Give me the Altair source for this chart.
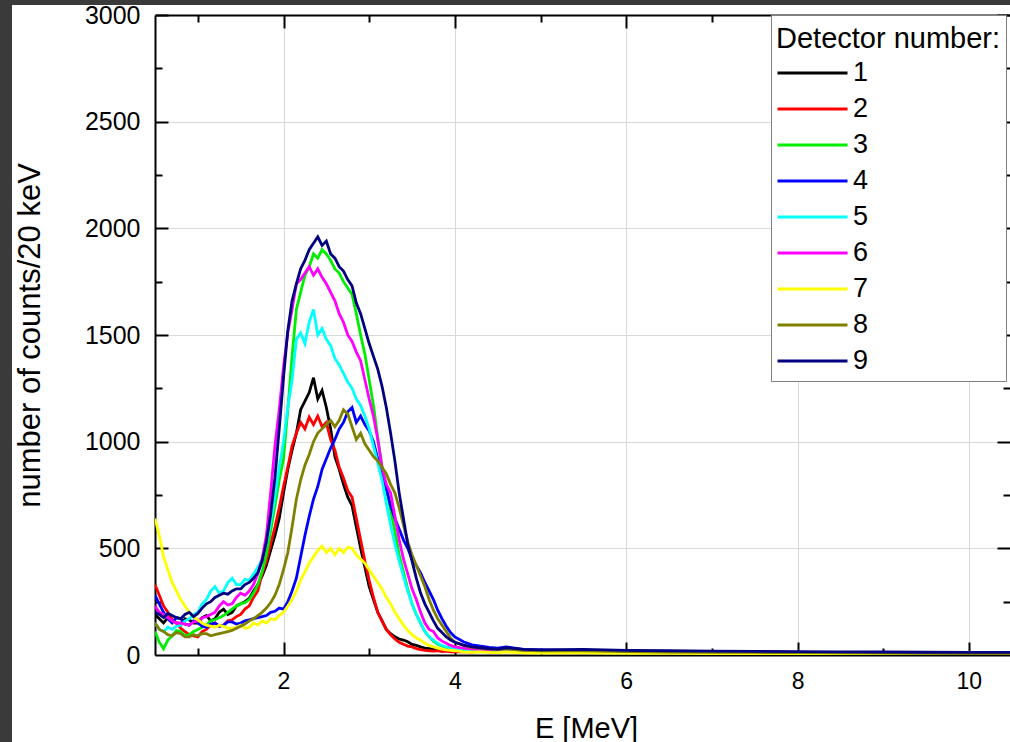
import altair as alt
import pandas as pd

# ---------------- data ----------------
E = [0.5, 0.55, 0.6, 0.65, 0.7, 0.75, 0.8, 0.85, 0.9, 0.95, 1.0, 1.05,
     1.1, 1.15, 1.2, 1.25, 1.3, 1.35, 1.4, 1.45, 1.5, 1.55, 1.6,
     1.65, 1.7, 1.75, 1.8, 1.85, 1.9, 1.95,
     2.0, 2.05, 2.1, 2.15, 2.2, 2.25, 2.3, 2.35, 2.4, 2.45,
     2.5, 2.55, 2.6, 2.65, 2.7, 2.75, 2.8, 2.85, 2.9, 2.95,
     3.0, 3.05, 3.1, 3.15, 3.2, 3.25, 3.3, 3.35, 3.4, 3.45,
     3.5, 3.55, 3.6, 3.65, 3.7, 3.75, 3.8, 3.85, 3.9, 3.95,
     4.0,
     4.1, 4.2, 4.3, 4.4, 4.5, 4.6, 4.8, 5.0, 5.5, 6.0, 6.5, 7.0, 7.5, 8.0, 8.5, 9.0, 9.5, 10.0, 10.5]

det1 = [190, 170, 150, 175, 165, 150, 140, 170, 165, 150, 150, 175,
        185, 160, 170, 200, 215, 190, 200, 230, 240, 250, 265,
        300, 330, 370, 420, 490, 560, 640,
        760, 870, 960, 1040, 1150, 1190, 1230, 1300, 1200, 1240,
        1160, 1060, 930, 870, 800, 740, 700, 600, 500, 410,
        320, 260, 200, 160, 120, 100, 85, 75, 70, 62,
        50, 45, 38, 32, 30, 27, 25, 22, 24, 20,
        22,
        20, 18, 22, 18, 20, 26, 18, 15, 20, 14, 12, 11, 10, 9, 8, 7, 6, 6, 5]

det2 = [330, 280, 230, 200, 165, 150, 125, 110, 95, 90, 85, 110,
        120, 140, 150, 135, 140, 160, 165, 180, 190, 215, 230,
        270, 300, 380, 440, 520, 600, 690,
        790, 880, 980, 1040, 1090, 1060, 1115, 1080, 1120, 1070,
        1090, 1010, 960, 880, 830, 770, 740, 640, 540, 440,
        350, 270, 200, 160, 120, 95, 75, 60, 50, 42,
        38, 30, 25, 22, 20, 18, 20, 16, 18, 15,
        15,
        16, 14, 18, 15, 14, 20, 14, 12, 16, 12, 10, 10, 9, 8, 7, 7, 6, 5, 5]

det3 = [110, 60, 30, 70, 90, 115, 110, 90, 95, 110, 120, 130,
        140, 160, 165, 175, 185, 200, 215, 230, 240, 245, 260,
        290, 330, 390, 470, 580, 700, 820,
        920, 1150, 1400, 1620, 1700, 1780, 1820, 1880, 1860, 1900,
        1880, 1850, 1810, 1790, 1750, 1720, 1690, 1600, 1500, 1410,
        1290, 1170, 1020, 880, 780, 680, 580, 470, 390, 310,
        240, 190, 150, 110, 85, 65, 50, 42, 35, 30,
        28,
        24, 22, 26, 20, 22, 28, 18, 16, 20, 15, 13, 12, 11, 10, 9, 8, 7, 6, 6]

det4 = [280, 240, 200, 170, 150, 175, 170, 145, 140, 160, 150, 135,
        130, 145, 150, 135, 140, 155, 155, 145, 150, 160, 165,
        170, 175, 180, 185, 200, 205, 220,
        215, 250, 300, 360, 460, 560, 650, 730, 790, 870,
        920, 970, 1010, 1060, 1090, 1140, 1160, 1090, 1120, 1080,
        1050, 1000, 920, 850, 780, 700, 640, 590, 540, 500,
        450, 420, 385, 340, 300, 260, 210, 170, 135, 105,
        85,
        62, 48, 42, 36, 32, 38, 26, 24, 22, 18, 16, 15, 14, 12, 11, 10, 9, 8, 8]

det5 = [150, 120, 110, 130, 120, 135, 140, 160, 170, 190, 200, 240,
        260, 300, 320, 290, 300, 340, 360, 330, 330, 355, 350,
        380, 410, 450, 520, 620, 740, 880,
        1000, 1160, 1290, 1480, 1510, 1460, 1560, 1620, 1500, 1530,
        1480, 1450, 1390, 1360, 1320, 1280, 1250, 1200, 1170, 1120,
        1060, 980, 900, 820, 710, 610, 520, 440, 370, 300,
        240, 190, 150, 110, 85, 70, 55, 45, 38, 32,
        30,
        26, 24, 27, 22, 22, 30, 20, 18, 20, 16, 14, 13, 12, 11, 10, 9, 8, 7, 7]

det6 = [230, 200, 190, 175, 160, 150, 150, 145, 140, 155, 160, 175,
        180, 190, 200, 230, 250, 235, 240, 270, 290, 280, 300,
        330, 380, 450, 560, 760, 980, 1150,
        1350, 1510, 1620, 1740, 1760, 1790, 1820, 1780, 1810, 1770,
        1740, 1700, 1660, 1600, 1560, 1500, 1470, 1420, 1380, 1290,
        1200, 1120, 1010, 880, 800, 760, 650, 540, 450, 380,
        310, 260, 200, 150, 120, 110, 80, 65, 55, 45,
        38,
        32, 28, 26, 24, 24, 30, 22, 20, 22, 17, 15, 14, 13, 12, 10, 9, 8, 8, 7]

det7 = [640, 560, 460, 400, 340, 300, 260, 230, 200, 180, 165, 150,
        140, 135, 130, 140, 135, 125, 125, 130, 140, 125, 130,
        150, 140, 160, 150, 170, 165, 185,
        200, 230, 260, 300, 350, 390, 430, 460, 490, 510,
        480, 500, 470, 500, 480, 505, 500, 470, 450, 430,
        400, 370, 340, 310, 270, 240, 200, 170, 140, 115,
        95, 80, 70, 55, 45, 38, 32, 28, 24, 22,
        20,
        15, 13, 15, 12, 11, 14, 10, 9, 10, 8, 8, 7, 7, 6, 5, 5, 5, 4, 4]

det8 = [150, 120, 110, 95, 90, 105, 100, 85, 85, 95, 90, 100,
        100, 90, 95, 100, 105, 110, 115, 125, 135, 145, 160,
        170, 185, 200, 220, 245, 280, 330,
        400, 480, 600, 730, 820, 890, 940, 1000, 1040, 1060,
        1080, 1100, 1070, 1100, 1150, 1130, 1070, 1010, 1040, 990,
        960, 930, 910, 880, 850, 800, 760, 690, 610, 530,
        470, 420, 370, 320, 260, 210, 170, 140, 110, 80,
        60,
        45, 36, 32, 28, 26, 30, 22, 20, 20, 16, 14, 13, 12, 11, 10, 9, 8, 7, 7]

det9 = [200, 190, 175, 195, 185, 175, 170, 190, 200, 180, 195, 220,
        240, 250, 270, 280, 290, 285, 300, 310, 310, 330, 340,
        360, 385, 440, 530, 660, 830, 1060,
        1300, 1520, 1660, 1740, 1810, 1850, 1900, 1930, 1960, 1920,
        1940, 1880, 1860, 1820, 1800, 1760, 1730, 1650, 1600, 1530,
        1460, 1400, 1340, 1260, 1160, 1040, 910, 760, 640, 520,
        440, 360, 290, 240, 200, 160, 125, 105, 85, 70,
        60,
        46, 38, 34, 30, 28, 34, 26, 24, 26, 22, 20, 18, 17, 16, 15, 14, 13, 12, 12]

detectors = ["1", "2", "3", "4", "5", "6", "7", "8", "9"]
series = [det1, det2, det3, det4, det5, det6, det7, det8, det9]
colors = ["#000000", "#ff0000", "#00ee00", "#0000ff", "#00ffff",
          "#ff00ff", "#ffff00", "#808000", "#000080"]

x_major = [2, 4, 6, 8, 10]
x_all = [1, 2, 3, 4, 5, 6, 7, 8, 9, 10]
y_major = [0, 500, 1000, 1500, 2000, 2500, 3000]
y_all = [250, 500, 750, 1000, 1250, 1500, 1750, 2000, 2250, 2500, 2750, 3000]

rows = []
for name, vals in zip(detectors, series):
    for e, v in zip(E, vals):
        rows.append({"E": e, "counts": v, "det": name})
df = pd.DataFrame(rows)

# ---------------- layout ----------------
W, H = 855, 640
FONT = "Liberation Sans"
xscale = alt.Scale(domain=[0.5, 10.48], nice=False, zero=False)
yscale = alt.Scale(domain=[0, 3000], nice=False, zero=False)

x_main = alt.Axis(orient="bottom", values=x_major, format="d", grid=True,
                  gridColor="#d9d9d9", gridWidth=1, ticks=False, tickSize=0,
                  domain=True, domainColor="black", domainWidth=2,
                  labelFont=FONT, labelFontSize=23, labelColor="black", labelPadding=15,
                  labelFlush=False,
                  title="E [MeV]", titleFont=FONT, titleFontSize=29, titleFontWeight="normal",
                  titleColor="black", titleBaseline="alphabetic", titleX=431, titleY=82)
y_main = alt.Axis(orient="left", values=y_major, format="d", grid=True,
                  gridColor="#d9d9d9", gridWidth=1, ticks=False, tickSize=0,
                  domain=True, domainColor="black", domainWidth=2,
                  labelFont=FONT, labelFontSize=25, labelColor="black", labelPadding=15,
                  title="number of counts/20 keV", titleFont=FONT, titleFontSize=31,
                  titleFontWeight="normal", titleColor="black", titleAngle=270,
                  titleBaseline="alphabetic", titleAlign="center", titleX=-116, titleY=320)

x_tick_cond = {"condition": {"test": "datum.value % 2 === 0", "value": 13}, "value": 7}
y_tick_cond = {"condition": {"test": "datum.value % 500 === 0", "value": 13}, "value": 7}

x_ticks_bottom = alt.Axis(orient="top", offset=-H, values=x_all, labels=False, grid=False,
                          domain=False, ticks=True, tickColor="black", tickWidth=2,
                          tickSize=x_tick_cond, title=None)
x_ticks_top = alt.Axis(orient="bottom", offset=-H, values=x_all, labels=False, grid=False,
                       domain=True, domainColor="black", domainWidth=2, ticks=True,
                       tickColor="black", tickWidth=2, tickSize=x_tick_cond, title=None)
y_ticks_left = alt.Axis(orient="right", offset=-W, values=y_all, labels=False, grid=False,
                        domain=False, ticks=True, tickColor="black", tickWidth=2,
                        tickSize=y_tick_cond, title=None)
y_ticks_right = alt.Axis(orient="left", offset=-W, values=y_all, labels=False, grid=False,
                         domain=False, ticks=True, tickColor="black", tickWidth=2,
                         tickSize=y_tick_cond, title=None)

legend = alt.Legend(title="Detector number:", orient="none", legendX=616, legendY=0,
                    direction="vertical", symbolType="stroke", symbolSize=4900,
                    symbolStrokeWidth=2.8, clipHeight=30, rowPadding=6,
                    labelFont=FONT, labelFontSize=27, labelColor="black", labelOffset=4,
                    titleFont=FONT, titleFontSize=29, titleFontWeight="normal",
                    titleColor="black", titleLimit=400, titleBaseline="line-top",
                    titleLineHeight=40, titlePadding=9, padding=5,
                    strokeColor="#808080", fillColor="white")

lines = alt.Chart(df).mark_line(strokeWidth=2.8, clip=True).encode(
    x=alt.X("E:Q", scale=xscale, axis=x_main),
    y=alt.Y("counts:Q", scale=yscale, axis=y_main),
    color=alt.Color("det:N", scale=alt.Scale(domain=detectors, range=colors), legend=legend),
)

ticks_a = alt.Chart(df).mark_point(opacity=0, size=1).encode(
    x=alt.X("E:Q", scale=xscale, axis=x_ticks_bottom),
    y=alt.Y("counts:Q", scale=yscale, axis=y_ticks_left),
)
ticks_b = alt.Chart(df).mark_point(opacity=0, size=1).encode(
    x=alt.X("E:Q", scale=xscale, axis=x_ticks_top),
    y=alt.Y("counts:Q", scale=yscale, axis=y_ticks_right),
)

# dark slide border visible at the left and top of the screenshot
frame_df = pd.DataFrame({"k": [0]})
left_strip = alt.Chart(frame_df).mark_rect(color="#3a3a3a", clip=False).encode(
    x=alt.value(-155), x2=alt.value(-143), y=alt.value(-15), y2=alt.value(H + 87))
top_strip = alt.Chart(frame_df).mark_rect(color="#3a3a3a", clip=False).encode(
    x=alt.value(-155), x2=alt.value(W), y=alt.value(-15), y2=alt.value(-10))

chart = alt.layer(left_strip, top_strip, lines, ticks_a, ticks_b).resolve_axis(
    x="independent", y="independent"
).properties(
    width=W, height=H,
    padding={"left": 155, "top": 15, "right": 0, "bottom": 87},
    autosize=alt.AutoSizeParams(type="none"),
    background="white",
).configure_view(stroke="transparent")

chart.save("out.html", embed_options={"renderer": "svg", "actions": False})
